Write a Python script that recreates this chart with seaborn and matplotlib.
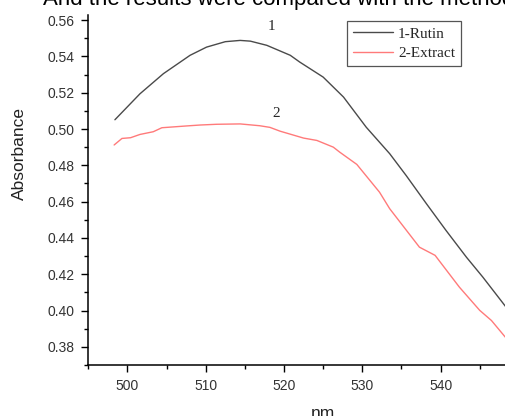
import matplotlib
matplotlib.use("Agg")
import matplotlib.pyplot as plt
import seaborn as sns
import pandas as pd
from matplotlib.ticker import MultipleLocator, FormatStrFormatter

# Data
rutin_nm = [498.4, 501.6, 504.6, 508.0, 510.1, 512.5, 514.4, 515.7, 517.8, 520.8,
            522.0, 525.0, 527.6, 530.5, 533.5, 535.6, 538.2, 540.7, 543.3, 545.4,
            548.2, 550.0]
rutin_abs = [0.5051, 0.5194, 0.5305, 0.5406, 0.5451, 0.5481, 0.5488, 0.5484, 0.5461,
             0.5406, 0.5369, 0.5286, 0.5176, 0.5010, 0.4864, 0.4744, 0.4588, 0.4441,
             0.4294, 0.4184, 0.4028, 0.3925]

extract_nm = [498.3, 499.3, 500.4, 501.6, 503.3, 504.4, 507.6, 509.3, 511.4, 514.4,
              516.9, 518.2, 519.5, 522.5, 524.2, 526.3, 527.1, 529.3, 532.2, 533.5,
              537.3, 539.3, 542.4, 545.0, 546.5, 548.2, 550.0]
extract_abs = [0.4912, 0.4948, 0.4952, 0.4970, 0.4985, 0.5007, 0.5017, 0.5022, 0.5026,
               0.5028, 0.5018, 0.5009, 0.4988, 0.4950, 0.4937, 0.4900, 0.4873, 0.4805,
               0.4652, 0.4561, 0.4349, 0.4304, 0.4129, 0.4001, 0.3945, 0.3857, 0.3770]

series_names = ["1-Rutin", "2-Extract"]
series_colors = ["#4a4a4a", "#ff7a7a"]

df = pd.concat([
    pd.DataFrame({"nm": rutin_nm, "Absorbance": rutin_abs, "series": series_names[0]}),
    pd.DataFrame({"nm": extract_nm, "Absorbance": extract_abs, "series": series_names[1]}),
], ignore_index=True)

sns.set_style("ticks")
plt.rcParams["font.family"] = ["Liberation Sans", "DejaVu Sans"]

W, H = 505, 416
fig = plt.figure(figsize=(W / 100, H / 100), dpi=100)
left, right, bottom, top = 88.3, 558, 365, 15
ax = fig.add_axes([left / W, 1 - bottom / H, (right - left) / W, (bottom - top) / H])

sns.lineplot(data=df, x="nm", y="Absorbance", hue="series", palette=series_colors,
             linewidth=1.0, sort=False, ax=ax)

ax.set_xlim(495, 555)
ax.set_ylim(0.37, 0.5628)
ax.xaxis.set_major_locator(MultipleLocator(10))
ax.xaxis.set_minor_locator(MultipleLocator(5))
ax.yaxis.set_major_locator(MultipleLocator(0.02))
ax.yaxis.set_minor_locator(MultipleLocator(0.01))
ax.yaxis.set_major_formatter(FormatStrFormatter("%.2f"))
ax.tick_params(which="major", direction="out", length=5, width=1, labelsize=10,
               labelcolor="#333333", color="black", pad=5)
ax.tick_params(which="minor", direction="out", length=3, width=1, color="black")
for s in ["top", "right"]:
    ax.spines[s].set_visible(False)
for s in ["left", "bottom"]:
    ax.spines[s].set_linewidth(1.1)
    ax.spines[s].set_color("black")

ax.set_xlabel("nm", fontsize=12.5, color="#222222")
ax.set_ylabel("Absorbance", fontsize=12.5, color="#222222")
ax.xaxis.set_label_coords((323 - left) / (right - left), -0.117)
ax.yaxis.set_label_coords((27 - left) / (right - left), (bottom - 153) / (bottom - top))

ax.text(518.4, 0.5565, "1", family="Liberation Serif", fontsize=11, ha="center", va="center")
ax.text(519.0, 0.5086, "2", family="Liberation Serif", fontsize=11, ha="center", va="center")

leg = ax.legend(loc="upper left",
                bbox_to_anchor=((346.7 - left) / (right - left), 1 - (20.7 - top) / (bottom - top)),
                borderaxespad=0, frameon=True, fancybox=False, edgecolor="#555555",
                framealpha=1, prop={"family": "Liberation Serif", "size": 11},
                handlelength=2.6, handletextpad=0.35, borderpad=0.4, labelspacing=0.4)
leg.get_frame().set_linewidth(0.9)

fig.text(43 / W, 1 - 5.5 / H, "And the results were compared with the method",
         fontsize=16, va="baseline", ha="left", color="black")

fig.savefig("out.png", dpi=100)
